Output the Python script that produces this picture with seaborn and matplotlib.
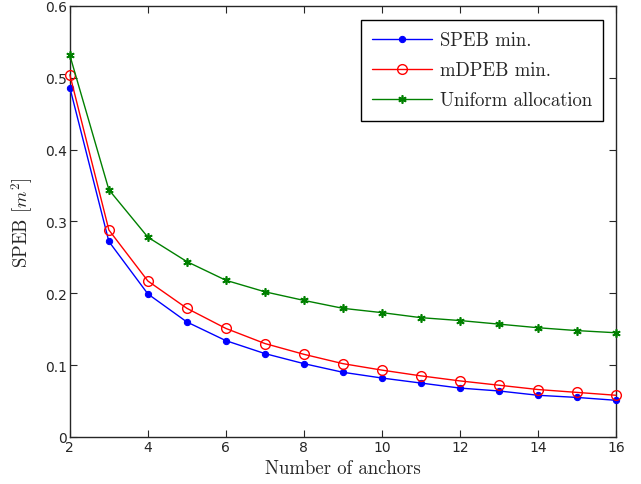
import numpy as np
import pandas as pd
import matplotlib.pyplot as plt
import seaborn as sns

# дані
anchors = [2, 3, 4, 5, 6, 7, 8, 9, 10, 11, 12, 13, 14, 15, 16]
speb_min = [0.486, 0.272, 0.199, 0.160, 0.134, 0.116, 0.102, 0.090, 0.082,
            0.075, 0.068, 0.064, 0.058, 0.055, 0.051]
mdpeb_min = [0.504, 0.288, 0.217, 0.179, 0.151, 0.130, 0.115, 0.102, 0.093,
             0.085, 0.078, 0.072, 0.066, 0.062, 0.058]
uniform = [0.531, 0.344, 0.278, 0.244, 0.218, 0.202, 0.190, 0.179, 0.173,
           0.166, 0.162, 0.157, 0.152, 0.148, 0.145]

series_names = ["SPEB min.", "mDPEB min.", "Uniform allocation"]
colors = ["#0000ff", "#ff0000", "#008000"]

sns.set_style("ticks")
plt.rcParams["font.family"] = ["DejaVu Sans"]
plt.rcParams["mathtext.fontset"] = "cm"
plt.rcParams["xtick.direction"] = "in"
plt.rcParams["ytick.direction"] = "in"

df = pd.DataFrame({"anchors": anchors,
                   series_names[0]: speb_min,
                   series_names[1]: mdpeb_min,
                   series_names[2]: uniform})
long = df.melt(id_vars="anchors", var_name="method", value_name="speb")

fig = plt.figure(figsize=(6.41, 4.85), dpi=100)
ax = fig.add_axes([0.109, 0.097, 0.852, 0.889])

styles = [dict(marker="o", markersize=4.5, markerfacecolor=colors[0], markeredgecolor=colors[0]),
          dict(marker="o", markersize=7, markerfacecolor="none", markeredgecolor=colors[1],
               markeredgewidth=1.0),
          dict(marker=(6, 2, 0), markersize=6, markerfacecolor=colors[2],
               markeredgecolor=colors[2], markeredgewidth=1.2)]

for name, col, st in zip(series_names, colors, styles):
    sub = long[long["method"] == name]
    sns.lineplot(data=sub, x="anchors", y="speb", ax=ax, color=col, linewidth=1.0,
                 label=name, clip_on=False, zorder=3, **st)

ax.set_xlim(2, 16)
ax.set_ylim(0, 0.6)
ax.set_xticks(range(2, 17, 2))
ax.set_yticks(np.arange(0, 0.61, 0.1))
ax.set_yticklabels(["0", "0.1", "0.2", "0.3", "0.4", "0.5", "0.6"])
ax.tick_params(axis="both", which="both", top=True, right=True, labelsize=10,
               length=5, pad=2)
for sp in ax.spines.values():
    sp.set_linewidth(1.0)
    sp.set_visible(True)

ax.set_xlabel("Number of anchors", fontfamily="cmr10", fontsize=13.5, labelpad=4)
ax.set_ylabel(r"SPEB $[m^2]$", fontfamily="cmr10", fontsize=13.5, labelpad=7)

leg = ax.legend(loc="upper right", prop={"family": "cmr10", "size": 13.5},
                fancybox=False, edgecolor="black", framealpha=1,
                bbox_to_anchor=(0.994, 0.989), handlelength=3.2, borderpad=0.6,
                labelspacing=0.65, handletextpad=0.4)
leg.get_frame().set_linewidth(1.0)

fig.savefig("out.png", dpi=100)
